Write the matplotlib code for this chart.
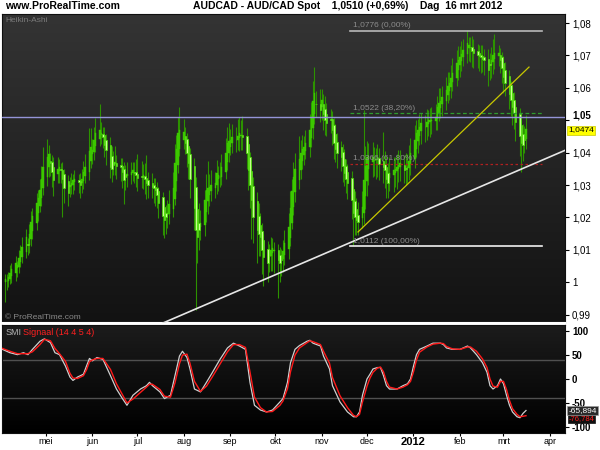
import matplotlib
matplotlib.use('Agg')
import matplotlib.pyplot as plt
import matplotlib.dates as mdates
from matplotlib.colors import LinearSegmentedColormap
import numpy as np
import pandas as pd

# ---------------- data ----------------
start_day = '2011-04-04'
end_day = '2012-03-16'
first_open = 1.0000
closes = [
    1.0010, 1.0005, 1.0015, 1.0028, 1.0040,
    1.0060, 1.0052, 1.0075, 1.0095, 1.0110,
    1.0140, 1.0115, 1.0150, 1.0185, 1.0205,
    1.0245, 1.0260, 1.0285, 1.0320, 1.0356,
    1.0387, 1.0395, 1.0368, 1.0340, 1.0315,
    1.0350, 1.0356, 1.0345, 1.0320, 1.0290,
    1.0275, 1.0300, 1.0306, 1.0315, 1.0320,
    1.0310, 1.0300, 1.0320, 1.0340, 1.0356,
    1.0405, 1.0417, 1.0408, 1.0440, 1.0462,
    1.0470, 1.0460, 1.0448, 1.0425, 1.0408,
    1.0356, 1.0350, 1.0362, 1.0370, 1.0358,
    1.0356, 1.0340, 1.0315, 1.0325, 1.0335,
    1.0340, 1.0345, 1.0337, 1.0330, 1.0322,
    1.0325, 1.0330, 1.0318, 1.0306, 1.0300,
    1.0294, 1.0290, 1.0285, 1.0270, 1.0244,
    1.0205, 1.0192, 1.0200, 1.0214, 1.0240,
    1.0290, 1.0368, 1.0410, 1.0460, 1.0470,
    1.0465, 1.0430, 1.0400, 1.0368, 1.0320,
    1.0230, 1.0160, 1.0140, 1.0160, 1.0183,
    1.0254, 1.0285, 1.0290, 1.0294, 1.0300,
    1.0306, 1.0337, 1.0330, 1.0325, 1.0355,
    1.0400, 1.0430, 1.0435, 1.0439, 1.0448,
    1.0439, 1.0450, 1.0460, 1.0455, 1.0448,
    1.0400, 1.0346, 1.0300, 1.0254, 1.0200,
    1.0160, 1.0150, 1.0140, 1.0100, 1.0078,
    1.0060, 1.0080, 1.0100, 1.0105, 1.0100,
    1.0070, 1.0060, 1.0069, 1.0095, 1.0121,
    1.0170, 1.0230, 1.0280, 1.0325, 1.0350,
    1.0380, 1.0399, 1.0410, 1.0417, 1.0430,
    1.0470, 1.0510, 1.0560, 1.0584, 1.0550,
    1.0531, 1.0562, 1.0520, 1.0500, 1.0491,
    1.0500, 1.0470, 1.0430, 1.0410, 1.0399,
    1.0387, 1.0360, 1.0337, 1.0320, 1.0306,
    1.0254, 1.0214, 1.0200, 1.0192, 1.0185,
    1.0232, 1.0315, 1.0360, 1.0387, 1.0390,
    1.0387, 1.0377, 1.0380, 1.0387, 1.0365,
    1.0356, 1.0346, 1.0320, 1.0306, 1.0337,
    1.0346, 1.0350, 1.0356, 1.0362, 1.0368,
    1.0346, 1.0350, 1.0356, 1.0375, 1.0399,
    1.0439, 1.0460, 1.0470, 1.0480, 1.0491,
    1.0480, 1.0495, 1.0500, 1.0502, 1.0500,
    1.0510, 1.0540, 1.0553, 1.0560, 1.0572,
    1.0593, 1.0605, 1.0615, 1.0630, 1.0646,
    1.0677, 1.0685, 1.0695, 1.0705, 1.0717,
    1.0738, 1.0732, 1.0726, 1.0715, 1.0707,
    1.0700, 1.0697, 1.0695, 1.0690, 1.0686,
    1.0655, 1.0670, 1.0686, 1.0700, 1.0707,
    1.0707, 1.0686, 1.0660, 1.0633, 1.0615,
    1.0580, 1.0562, 1.0540, 1.0522, 1.0495,
    1.0450, 1.0430, 1.0425, 1.0440, 1.0474,
]
# wick lengths in pips beyond the Heikin-Ashi body
wick_up = [
    15, 20, 18, 25, 20,   22, 15, 25, 20, 30,   25, 20, 30, 35, 25,   30, 25, 35, 40, 60,
    55, 30, 25, 20, 30,   35, 25, 20, 25, 15,   20, 25, 30, 20, 25,   20, 25, 30, 35, 40,
    70, 60, 35, 40, 45,   80, 35, 20, 25, 20,   25, 30, 35, 50, 25,   20, 25, 20, 30, 35,
    30, 25, 30, 40, 60,   45, 35, 40, 70, 25,   30, 20, 25, 20, 15,   15, 20, 25, 40, 45,
    50, 60, 45, 50, 70,   40, 25, 20, 15, 20,   25, 30, 35, 60, 40,   30, 50, 85, 40, 45,
    35, 40, 30, 45, 40,   45, 50, 55, 35, 40,   40, 55, 50, 45, 60,   25, 20, 15, 20, 25,
    30, 40, 35, 25, 20,   25, 35, 40, 30, 25,   20, 25, 30, 35, 40,   45, 50, 40, 45, 50,
    70, 40, 45, 35, 40,   50, 45, 60, 80, 40,   45, 35, 30, 40, 35,   30, 25, 20, 30, 25,
    20, 25, 30, 20, 25,   20, 25, 30, 35, 40,   50, 215, 60, 50, 40,  45, 40, 35, 40, 30,
    90, 40, 35, 30, 50,   40, 35, 40, 45, 40,   30, 45, 40, 50, 45,   45, 40, 35, 40, 30,
    35, 40, 30, 35, 40,   40, 35, 45, 40, 35,   40, 45, 35, 40, 45,   40, 45, 35, 40, 35,
    40, 25, 30, 35, 30,   20, 25, 30, 35, 25,   30, 35, 40, 50, 60,   25, 20, 15, 20, 25,
    20, 15, 20, 25, 15,   20, 15, 30, 40, 42,
]
wick_dn = [
    60, 30, 20, 15, 20,   25, 30, 20, 15, 20,   20, 30, 25, 20, 25,   20, 25, 20, 25, 20,
    25, 30, 40, 45, 50,   30, 35, 40, 120, 45,  40, 30, 25, 30, 25,   35, 40, 30, 25, 20,
    25, 20, 30, 25, 20,   20, 30, 35, 40, 45,   35, 40, 30, 35, 40,   45, 50, 75, 40, 35,
    30, 25, 30, 35, 40,   35, 40, 45, 50, 40,   35, 45, 50, 40, 45,   60, 55, 50, 40, 30,
    25, 20, 30, 25, 20,   30, 35, 45, 50, 60,   70, 246, 80, 60, 40,  35, 30, 40, 35, 30,
    30, 25, 35, 30, 25,   20, 25, 30, 25, 30,   35, 30, 40, 45, 40,   50, 60, 70, 120, 80,
    100, 70, 60, 75, 90,  60, 50, 45, 55, 70,   120, 60, 50, 40, 30,  30, 25, 20, 25, 30,
    25, 30, 25, 30, 25,   30, 25, 35, 30, 40,   35, 40, 50, 45, 40,   40, 45, 50, 40, 45,
    45, 50, 40, 45, 50,   60, 100, 55, 45, 40,  30, 35, 40, 45, 50,   45, 50, 60, 55, 50,
    50, 55, 60, 45, 40,   50, 45, 55, 40, 45,   40, 50, 45, 40, 35,   30, 25, 35, 30, 40,
    45, 40, 35, 45, 40,   30, 35, 25, 30, 35,   30, 25, 30, 35, 25,   25, 30, 35, 30, 25,
    30, 40, 45, 50, 45,   40, 45, 50, 40, 45,   50, 45, 40, 35, 30,   30, 40, 45, 50, 40,
    45, 50, 55, 50, 60,   60, 90, 50, 40, 30,
]

smi_dates = [
    '2011-04-02', '2011-04-07', '2011-04-12', '2011-04-16', '2011-04-19', '2011-04-22',
    '2011-04-27', '2011-04-30', '2011-05-04', '2011-05-07', '2011-05-10', '2011-05-14',
    '2011-05-17', '2011-05-19', '2011-05-22', '2011-05-26', '2011-05-28', '2011-05-30',
    '2011-06-01', '2011-06-04', '2011-06-08', '2011-06-13', '2011-06-17', '2011-06-21',
    '2011-06-24', '2011-06-28', '2011-07-03', '2011-07-07', '2011-07-09', '2011-07-11',
    '2011-07-16', '2011-07-19', '2011-07-23', '2011-07-26', '2011-07-29', '2011-07-31',
    '2011-08-03', '2011-08-05', '2011-08-08', '2011-08-12', '2011-08-16', '2011-08-20',
    '2011-08-25', '2011-08-30', '2011-09-03', '2011-09-07', '2011-09-11', '2011-09-14',
    '2011-09-17', '2011-09-21', '2011-09-25', '2011-09-29', '2011-10-04', '2011-10-06',
    '2011-10-09', '2011-10-11', '2011-10-14', '2011-10-17', '2011-10-22', '2011-10-24',
    '2011-10-26', '2011-10-31', '2011-11-02', '2011-11-06', '2011-11-08', '2011-11-13',
    '2011-11-18', '2011-11-22', '2011-11-24', '2011-11-26', '2011-11-28', '2011-12-01',
    '2011-12-03', '2011-12-05', '2011-12-08', '2011-12-10', '2011-12-12', '2011-12-14',
    '2011-12-16', '2011-12-21', '2011-12-25', '2011-12-28', '2011-12-30', '2012-01-01',
    '2012-01-03', '2012-01-05', '2012-01-10', '2012-01-14', '2012-01-19', '2012-01-21',
    '2012-01-23', '2012-01-27', '2012-02-01', '2012-02-06', '2012-02-08', '2012-02-12',
    '2012-02-16', '2012-02-19', '2012-02-21', '2012-02-23', '2012-02-26', '2012-02-28',
    '2012-03-01', '2012-03-03', '2012-03-05', '2012-03-07', '2012-03-10', '2012-03-12',
    '2012-03-14', '2012-03-16',
]
smi_values = [
    62, 55, 51, 55, 51, 62, 79, 84, 76, 55, 51, 27,
    4, -3, 4, 10, 27, 43, 38, 45, 41, 7, -21, -41,
    -55, -34, -21, -14, -7, -14, -27, -41, -34, 7, 48, 58,
    45, 21, -21, -27, -7, 14, 41, 65, 75, 69, 62, -7,
    -55, -65, -69, -65, -48, -41, -7, 34, 62, 70, 79, 81,
    75, 69, 48, 21, -14, -48, -69, -79, -79, -69, -34, 0,
    10, 21, 24, 24, 7, -14, -21, -21, -14, -10, 0, 27,
    51, 62, 69, 75, 75, 72, 65, 62, 62, 69, 65, 51,
    34, 14, -14, -21, -14, 0, -10, -34, -55, -69, -79, -81,
    -72, -65.894,
]
signal_values = [
    64, 58, 53, 53, 53, 57, 72, 83, 80, 64, 53, 37,
    12, 2, 1, 7, 19, 36, 40, 43, 43, 20, -10, -33,
    -50, -42, -28, -17, -11, -11, -22, -36, -38, -8, 32, 50,
    52, 33, -5, -26, -15, 5, 31, 57, 72, 72, 66, 15,
    -38, -60, -69, -68, -55, -46, -20, 15, 50, 65, 76, 80,
    78, 72, 58, 33, 3, -35, -60, -76, -79, -74, -48, -15,
    2, 14, 23, 25, 15, -5, -17, -21, -17, -12, -5, 15,
    40, 56, 67, 73, 75, 74, 68, 63, 62, 67, 67, 58,
    42, 24, 0, -15, -17, -5, -5, -22, -45, -62, -74, -79,
    -78, -76.784,
]

last_close = 1.0510
ha_last = 1.0474
fib_levels = [1.0776, 1.0522, 1.0366, 1.0112]
fib_labels = ['1,0776 (0,00%)', '1,0522 (38,20%)', '1,0366 (61,80%)', '1,0112 (100,00%)']
fib_span = ['2011-11-20', '2012-03-27']
trend_white = (['2011-07-18', '2012-04-12'], [0.9874, 1.0409])
trend_yellow = (['2011-11-25', '2012-03-18'], [1.0155, 1.0664])
price_ticks = [0.99, 1.00, 1.01, 1.02, 1.03, 1.04, 1.05, 1.06, 1.07, 1.08]
price_tick_labels = ['0,99', '1', '1,01', '1,02', '1,03', '1,04', '1,05', '1,06', '1,07', '1,08']
smi_ticks = [-100, -50, 0, 50, 100]
month_starts = ['2011-05-01', '2011-06-01', '2011-07-01', '2011-08-01', '2011-09-01', '2011-10-01',
                '2011-11-01', '2011-12-01', '2012-01-01', '2012-02-01', '2012-03-01', '2012-04-01']
month_labels = ['mei', 'jun', 'jul', 'aug', 'sep', 'okt', 'nov', 'dec', '2012', 'feb', 'mrt', 'apr']

# ---------------- Heikin-Ashi bodies ----------------
dates = pd.bdate_range(start_day, end_day)
closes_a = np.array(closes)
opens = [first_open]
for i in range(1, len(closes)):
    opens.append((opens[-1] + closes[i - 1]) / 2)
opens_a = np.array(opens)
top = np.maximum(opens_a, closes_a)
bot = np.minimum(opens_a, closes_a)
highs = top + np.array(wick_up) / 10000.0
lows = bot - np.array(wick_dn) / 10000.0
xd = mdates.date2num(dates)

plt.rcParams['font.family'] = ['Liberation Sans', 'DejaVu Sans']

fig = plt.figure(figsize=(6, 4.5), dpi=100, facecolor='white')
ax = fig.add_axes([2 / 600, 1 - 323 / 450, 563 / 600, 309 / 450])
ax2 = fig.add_axes([2 / 600, 1 - 433 / 450, 563 / 600, 108 / 450])

x_origin = mdates.date2num(pd.Timestamp('2011-04-01'))
xlim = (x_origin + 0.7, x_origin + 376)

grad = np.linspace(0, 1, 256).reshape(-1, 1)
cm_main = LinearSegmentedColormap.from_list('m', ['#343434', '#121212'])
cm_smi = LinearSegmentedColormap.from_list('s', ['#1c1c1c', '#000000'])
ax.imshow(grad, extent=[0, 1, 0, 1], transform=ax.transAxes, aspect='auto', cmap=cm_main, zorder=0)
ax2.imshow(grad, extent=[0, 1, 0, 1], transform=ax2.transAxes, aspect='auto', cmap=cm_smi, zorder=0)

# candles
ax.vlines(xd, lows, highs, colors='#2c9200', linewidth=0.8, zorder=2)
up = closes_a >= opens_a
ax.bar(xd[up], (top - bot)[up], bottom=bot[up], width=1.0, color='#3cc800',
       edgecolor='#3cc800', linewidth=0.3, zorder=3)
ax.bar(xd[~up], (top - bot)[~up], bottom=bot[~up], width=1.0, color='#c6ff8e',
       edgecolor='#45dd00', linewidth=0.5, zorder=3)

# overlays
fx = mdates.date2num(pd.to_datetime(fib_span))
ax.plot(fx, [fib_levels[0]] * 2, color='#b8b8b8', lw=1.2, zorder=4)
ax.plot(fx, [fib_levels[1]] * 2, color='#2f9a2f', lw=0.9, ls=(0, (3, 2)), zorder=4)
ax.plot(fx, [fib_levels[2]] * 2, color='#b02020', lw=0.9, ls=(0, (2, 2)), zorder=4)
ax.plot(fx, [fib_levels[3]] * 2, color='#f0f0f0', lw=1.2, zorder=4)
for lvl, lab in zip(fib_levels, fib_labels):
    ax.text(fx[0] + 1.5, lvl + 0.0004, lab, color='#8c8c8c', fontsize=6, va='bottom', ha='left', zorder=5)

ax.axhline(last_close, color='#9494d8', lw=1.0, zorder=4)
tw = mdates.date2num(pd.to_datetime(trend_white[0]))
ax.plot(tw, trend_white[1], color='#e6e6e6', lw=1.2, zorder=4)
ty = mdates.date2num(pd.to_datetime(trend_yellow[0]))
ax.plot(ty, trend_yellow[1], color='#c8c800', lw=0.9, zorder=4)

ax.set_xlim(*xlim)
ax.set_ylim(0.98741, 1.08278)
ax.yaxis.tick_right()
ax.set_yticks(price_ticks)
ax.set_yticklabels(price_tick_labels)
ax.tick_params(axis='y', direction='out', length=3, labelsize=7, pad=2, colors='black')
for t in ax.get_yticklabels():
    if t.get_text() == '1,05':
        t.set_fontweight('bold')
        t.set_va('bottom')
ax.set_xticks(mdates.date2num(pd.to_datetime(month_starts)))
ax.tick_params(axis='x', bottom=False, labelbottom=False)
for s in ['left', 'top', 'right']:
    ax.spines[s].set_color('#101010')
    ax.spines[s].set_linewidth(0.8)
ax.spines['bottom'].set_color('white')
ax.spines['bottom'].set_linewidth(1.5)

ax.text(0.006, 0.99, 'Heikin-Ashi', transform=ax.transAxes, color='#7a7a7a', fontsize=6, va='top', ha='left')
ax.text(0.006, 0.005, '\u00a9 ProRealTime.com', transform=ax.transAxes, color='#8a8a8a', fontsize=6, va='bottom', ha='left')

ax.annotate('1,0474', xy=(1, ha_last), xycoords=('axes fraction', 'data'), xytext=(2.5, -1),
            textcoords='offset points', va='center', ha='left', fontsize=6, color='black',
            bbox=dict(boxstyle='square,pad=0.12', fc='#ffff00', ec='#c8c800', lw=0.5), annotation_clip=False)

# ---------------- SMI panel ----------------
sd = mdates.date2num(pd.to_datetime(smi_dates))
for lvl in (40, -40):
    ax2.axhline(lvl, color='#505050', lw=1.0, zorder=1)
ax2.plot(sd, smi_values, color='#cfcfcf', lw=0.9, zorder=3)
ax2.plot(sd, signal_values, color='#ff1a1a', lw=1.0, zorder=4)
ax2.set_xlim(*xlim)
ax2.set_ylim(-113, 113)
ax2.yaxis.tick_right()
ax2.set_yticks(smi_ticks)
ax2.set_yticklabels([str(v) for v in smi_ticks])
ax2.tick_params(axis='y', direction='out', length=3, labelsize=7, pad=2)
for t in ax2.get_yticklabels():
    t.set_fontweight('bold')
ax2.set_xticks(mdates.date2num(pd.to_datetime(month_starts)))
ax2.set_xticklabels(month_labels)
ax2.tick_params(axis='x', direction='out', length=2, labelsize=6.5, pad=1, colors='black')
for t in ax2.get_xticklabels():
    if t.get_text() == '2012':
        t.set_fontweight('bold')
        t.set_fontsize(8)
for s in ax2.spines.values():
    s.set_color('#101010')
    s.set_linewidth(0.8)

ax2.text(0.006, 0.97, 'SMI', transform=ax2.transAxes, color='#b4b4b4', fontsize=6.5, va='top', ha='left')
ax2.text(0.038, 0.97, 'Signaal (14 4 5 4)', transform=ax2.transAxes, color='#ff2020', fontsize=6.5, va='top', ha='left')

ax2.annotate('-76,784', xy=(1, signal_values[-1]), xycoords=('axes fraction', 'data'), xytext=(2.5, -2),
             textcoords='offset points', va='center', ha='left', fontsize=5.5, color='#ff2020',
             bbox=dict(boxstyle='square,pad=0.1', fc='#101010', ec='#101010', lw=0.5), annotation_clip=False)
ax2.annotate('-65,894', xy=(1, smi_values[-1]), xycoords=('axes fraction', 'data'), xytext=(2.5, 0),
             textcoords='offset points', va='center', ha='left', fontsize=6, color='white',
             bbox=dict(boxstyle='square,pad=0.12', fc='#2a2a2a', ec='#9a9a9a', lw=0.5), annotation_clip=False)

# ---------------- header ----------------
fig.text(5 / 600, 1 - 6 / 450, 'www.ProRealTime.com', fontsize=7.5, fontweight='bold', va='center', ha='left')
fig.text(193 / 600, 1 - 6 / 450, 'AUDCAD - AUD/CAD Spot    1,0510 (+0,69%)    Dag  16 mrt 2012',
         fontsize=7.5, fontweight='bold', va='center', ha='left')

fig.savefig('out.png', dpi=100, facecolor='white')
